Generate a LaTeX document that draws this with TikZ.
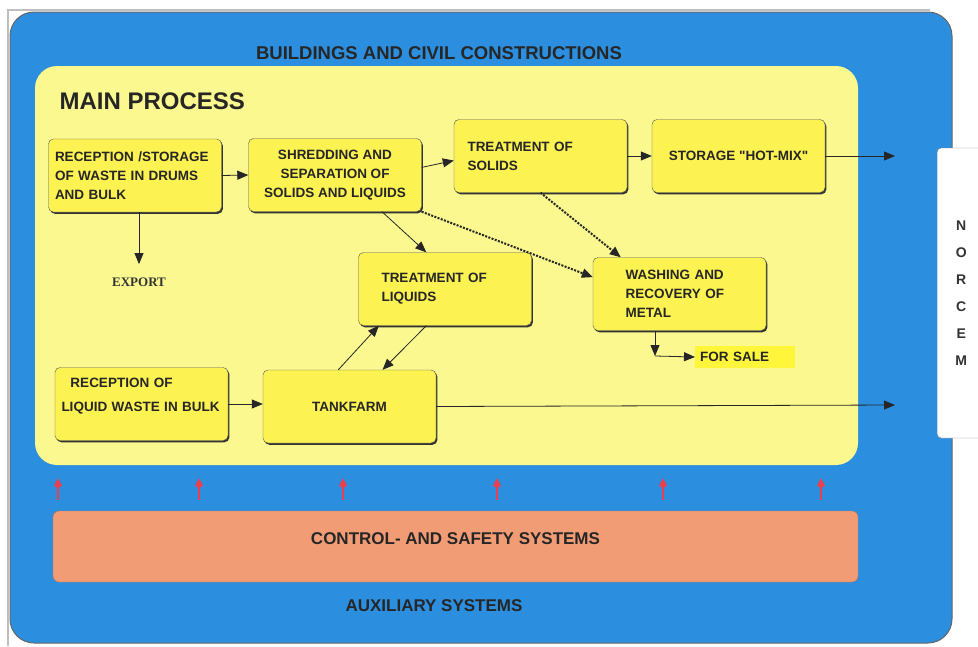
\documentclass[tikz,border=0pt]{standalone}
\usepackage{fontspec}
\setmainfont{Liberation Sans}
\newfontfamily\serifbold{Liberation Serif}
\usetikzlibrary{positioning,arrows.meta,shadows}

\definecolor{frameblue}{RGB}{44,142,222}
\definecolor{panelyellow}{RGB}{250,248,142}
\definecolor{boxyellow}{RGB}{252,242,82}
\definecolor{saleyellow}{RGB}{255,246,60}
\definecolor{ctrlsalmon}{RGB}{242,156,118}
\definecolor{sigred}{RGB}{232,64,78}

\begin{document}
\begin{tikzpicture}[
    x=1pt, y=-1pt,
    proc/.style={draw=black!65, fill=boxyellow, rounded corners=5pt,
      minimum width=173pt, minimum height=73pt, inner sep=0pt, align=center,
      font=\fontsize{13.5}{19}\selectfont\bfseries, text=black!85,
      drop shadow={shadow xshift=1.4pt, shadow yshift=-1.8pt, fill=black!80, opacity=1}},
    flow/.style={draw=black!85, line width=0.8pt, -{Triangle[length=11pt,width=9pt]}},
    reuse/.style={flow, line width=2pt, dash pattern=on 2pt off 1.4pt},   % dotted: material recovery
    sig/.style={draw=sigred, line width=1.5pt, -{Kite[length=10pt,width=8pt]}},
    heading/.style={font=\fontsize{17}{20}\selectfont\bfseries, text=black!85}
  ]
  \useasboundingbox (0,0) rectangle (978,646);

% --- Buildings and civil constructions (blue frame) ---
  \draw[black!25, line width=1.2pt] (8,646) -- (8,10) -- (930,10);
  \path[draw=black!60, line width=1pt, fill=frameblue, rounded corners=24pt]
    (10,12) rectangle (952,643);
  \node[fill=white, draw=black!45, rounded corners=4pt, anchor=west,
    minimum width=48pt, minimum height=290pt, align=center,
    font=\fontsize{14}{27}\selectfont\bfseries, text=black!80] (norcem) at (937,293)
    {N\\O\\R\\C\\E\\M};
  \node[heading, font=\fontsize{18.5}{20}\selectfont\bfseries] (bldg) at (439,53)
    {BUILDINGS AND CIVIL CONSTRUCTIONS};

% --- Main process panel ---
  \node[fill=panelyellow, rounded corners=22pt, minimum width=823pt,
    minimum height=399pt] (panel) at (446.5,265.5) {};
  \node[heading, font=\fontsize{24}{26}\selectfont\bfseries, anchor=west] (mainp)
    at (56,101) {MAIN PROCESS};

% --- Process steps ---
  \node[proc, text width=160pt, align=left] (recv) at (135,175.5)
    {RECEPTION /STORAGE\\ OF WASTE IN DRUMS\\ AND BULK};
  \node[proc] (shred) at (335,175)
    {SHREDDING AND\\SEPARATION OF\\SOLIDS AND LIQUIDS};
  \node[proc, text width=146pt, align=left] (solids) at (540.5,156)
    {TREATMENT OF\\SOLIDS};
  \node[proc] (hotmix) at (738.5,156) {STORAGE \textquotedbl HOT-MIX\textquotedbl};
  \node[proc, text width=127pt, align=left] (liquids) at (445,289)
    {TREATMENT OF\\LIQUIDS};
  \node[proc, text width=108pt, align=left] (metal) at (679.5,294)
    {WASHING AND\\RECOVERY OF\\METAL};
  \node[proc, text width=160pt, align=left] (bulkin) at (141.5,404)
    {\ \ RECEPTION OF\\[5pt]LIQUID WASTE IN BULK\\[0pt]\mbox{}};
  \node[proc] (tanks) at (349.5,406.5) {TANKFARM};

  \node[font=\fontsize{13}{15}\serifbold\bfseries, text=black!80] (export)
    at (139,282) {EXPORT};
  \node[fill=saleyellow, anchor=west, text width=90pt, inner xsep=5pt,
    minimum height=22pt, align=left, font=\fontsize{13.5}{15}\selectfont\bfseries,
    text=black!85] (forsale) at (695,357) {FOR SALE};

  \coordinate (outhot) at (895,156);
  \coordinate (outtank) at (895,405);
  \coordinate (saleturn) at (655,356);

% --- Flows ---
  \draw[flow] (recv.east) -- (shred.west);
  \draw[flow] (shred.5) -- (solids.183);
  \draw[flow] (solids.east) -- (hotmix.west);
  \draw[flow] (hotmix.east) -- (outhot);
  \draw[flow, shorten >=10pt] (recv.south -| export.north) -- (export.north);
  \draw[flow] (shred.322) -- (liquids.117);
  \draw[reuse] (shred.south east) -- (metal.169);
  \draw[reuse] (solids.south) -- (metal.148);
  \draw[flow] (tanks.107) -- (liquids.209);
  \draw[flow] (liquids.243) -- (tanks.48);
  \draw[flow] (bulkin.east) -- (bulkin.east -| tanks.west);
  \draw[flow] (tanks.east) -- (outtank);
  \draw[flow] (metal.south -| saleturn) -- (saleturn);
  \draw[flow] (saleturn) -- (forsale.west);

% --- Control- and safety systems ---
  \node[fill=ctrlsalmon, draw=ctrlsalmon!75!black, rounded corners=6pt,
    minimum width=805pt, minimum height=71pt, heading] (ctrl) at (455.5,546.5)
    {\raisebox{16pt}{CONTROL- AND SAFETY SYSTEMS}};
  \foreach \sx in {58,199,343,497,663,821}
    \draw[sig, shorten <=11pt, shorten >=13pt] (ctrl.north -| \sx,0) -- (panel.south -| \sx,0);
  \node[heading] (aux) at (434,606) {AUXILIARY SYSTEMS};

\end{tikzpicture}
\end{document}
